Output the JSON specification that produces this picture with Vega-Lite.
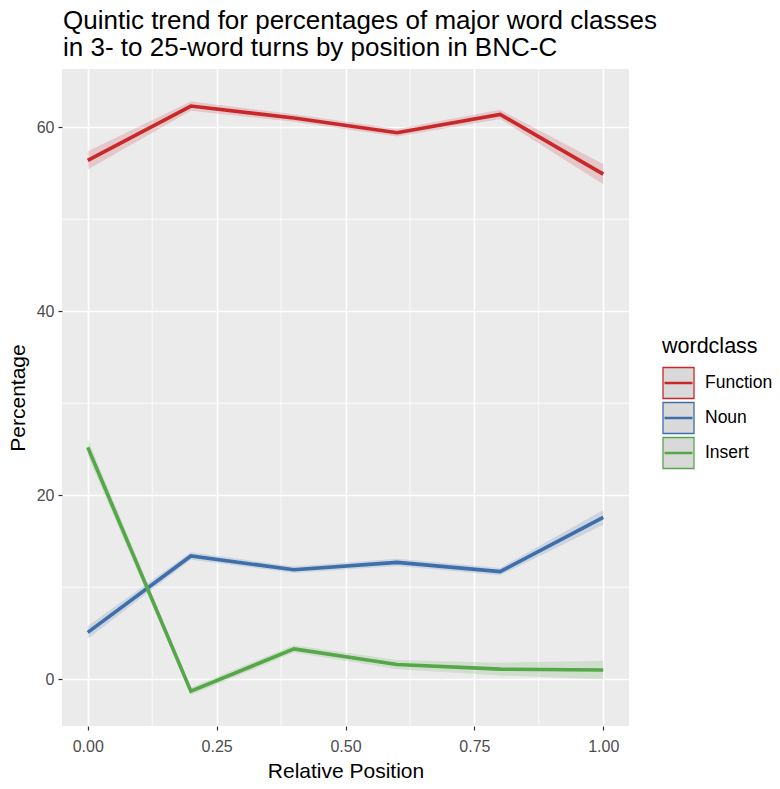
{
  "$schema": "https://vega.github.io/schema/vega-lite/v6.json",
  "width": 567,
  "height": 657,
  "autosize": "none",
  "padding": {"left": 62, "top": 69, "right": 151, "bottom": 63},
  "background": "white",
  "title": {
    "text": ["Quintic trend for percentages of major word classes", "in 3- to 25-word turns by position in BNC-C"],
    "anchor": "start",
    "frame": "group",
    "font": "Liberation Sans",
    "fontSize": 26,
    "fontWeight": "normal",
    "color": "black",
    "lineHeight": 27,
    "offset": 8,
    "dx": 1
  },
  "datasets": {
    "trend": [
      {"pos": 0.0, "wordclass": "Function", "pct": 56.4, "lo": 55.4, "hi": 57.4},
      {"pos": 0.2, "wordclass": "Function", "pct": 62.3, "lo": 61.8, "hi": 62.8},
      {"pos": 0.4, "wordclass": "Function", "pct": 61.0, "lo": 60.6, "hi": 61.4},
      {"pos": 0.6, "wordclass": "Function", "pct": 59.4, "lo": 59.0, "hi": 59.8},
      {"pos": 0.8, "wordclass": "Function", "pct": 61.4, "lo": 60.9, "hi": 61.9},
      {"pos": 1.0, "wordclass": "Function", "pct": 54.9, "lo": 53.8, "hi": 56.0},
      {"pos": 0.0, "wordclass": "Noun", "pct": 5.1, "lo": 4.4, "hi": 5.8},
      {"pos": 0.2, "wordclass": "Noun", "pct": 13.4, "lo": 13.0, "hi": 13.8},
      {"pos": 0.4, "wordclass": "Noun", "pct": 11.9, "lo": 11.55, "hi": 12.25},
      {"pos": 0.6, "wordclass": "Noun", "pct": 12.7, "lo": 12.3, "hi": 13.1},
      {"pos": 0.8, "wordclass": "Noun", "pct": 11.7, "lo": 11.3, "hi": 12.1},
      {"pos": 1.0, "wordclass": "Noun", "pct": 17.6, "lo": 16.8, "hi": 18.4},
      {"pos": 0.0, "wordclass": "Insert", "pct": 25.2, "lo": 24.3, "hi": 26.1},
      {"pos": 0.2, "wordclass": "Insert", "pct": -1.3, "lo": -1.7, "hi": -0.9},
      {"pos": 0.4, "wordclass": "Insert", "pct": 3.3, "lo": 2.9, "hi": 3.7},
      {"pos": 0.6, "wordclass": "Insert", "pct": 1.6, "lo": 1.1, "hi": 2.1},
      {"pos": 0.8, "wordclass": "Insert", "pct": 1.1, "lo": 0.4, "hi": 1.8},
      {"pos": 1.0, "wordclass": "Insert", "pct": 1.0, "lo": 0.0, "hi": 2.0}
    ],
    "minorx": [{"gx": 0.125}, {"gx": 0.375}, {"gx": 0.625}, {"gx": 0.875}],
    "minory": [{"gy": 10}, {"gy": 30}, {"gy": 50}]
  },
  "layer": [
    {
      "data": {"name": "minorx"},
      "mark": {"type": "rule", "color": "white", "strokeWidth": 0.8},
      "encoding": {
        "x": {"field": "gx", "type": "quantitative", "scale": {"domain": [-0.05, 1.05], "nice": false, "zero": false}}
      }
    },
    {
      "data": {"name": "minory"},
      "mark": {"type": "rule", "color": "white", "strokeWidth": 0.8},
      "encoding": {
        "y": {"field": "gy", "type": "quantitative", "scale": {"domain": [-5.08, 66.33], "nice": false, "zero": false}}
      }
    },
    {
      "data": {"name": "trend"},
      "mark": {"type": "area", "opacity": 0.18},
      "encoding": {
        "x": {"field": "pos", "type": "quantitative"},
        "y": {"field": "lo", "type": "quantitative"},
        "y2": {"field": "hi"},
        "fill": {
          "field": "wordclass",
          "type": "nominal",
          "scale": {"range": ["#c9282b", "#56a64a", "#3e6faa"]},
          "legend": null
        }
      }
    },
    {
      "data": {"name": "trend"},
      "mark": {"type": "line", "strokeWidth": 3.6},
      "encoding": {
        "x": {
          "field": "pos",
          "type": "quantitative",
          "title": "Relative Position",
          "axis": {"values": [0, 0.25, 0.5, 0.75, 1], "format": ".2f"}
        },
        "y": {
          "field": "pct",
          "type": "quantitative",
          "title": "Percentage",
          "axis": {"values": [0, 20, 40, 60]}
        },
        "stroke": {
          "field": "wordclass",
          "type": "nominal",
          "title": "wordclass",
          "scale": {
            "domain": ["Function", "Noun", "Insert"],
            "range": ["#c9282b", "#3e6faa", "#56a64a"]
          },
          "legend": {
            "orient": "none",
            "legendX": 600,
            "legendY": 267,
            "symbolType": "M-1,-1H1V1H-1ZM-0.86,-0.035H0.86V0.035H-0.86Z",
            "symbolSize": 961,
            "symbolStrokeWidth": 1.3,
            "symbolFillColor": "#d9d9d9",
            "rowPadding": -7,
            "labelOffset": 10,
            "titlePadding": 9
          }
        }
      }
    }
  ],
  "config": {
    "font": "Liberation Sans",
    "view": {"fill": "#ebebeb", "stroke": null},
    "axis": {
      "domain": false,
      "grid": true,
      "gridColor": "white",
      "gridWidth": 1.6,
      "tickColor": "#333333",
      "tickSize": 4,
      "tickWidth": 1.2,
      "labelColor": "#4d4d4d",
      "labelFontSize": 16,
      "labelPadding": 4,
      "titleColor": "black",
      "titleFontSize": 21,
      "titleFontWeight": "normal"
    },
    "axisX": {"titlePadding": 6, "labelPadding": 8, "labelFlush": false},
    "axisY": {"titlePadding": 8},
    "legend": {
      "titleFontSize": 21.5,
      "titleFontWeight": "normal",
      "titleColor": "black",
      "labelFontSize": 17.5,
      "labelColor": "black"
    }
  }
}
